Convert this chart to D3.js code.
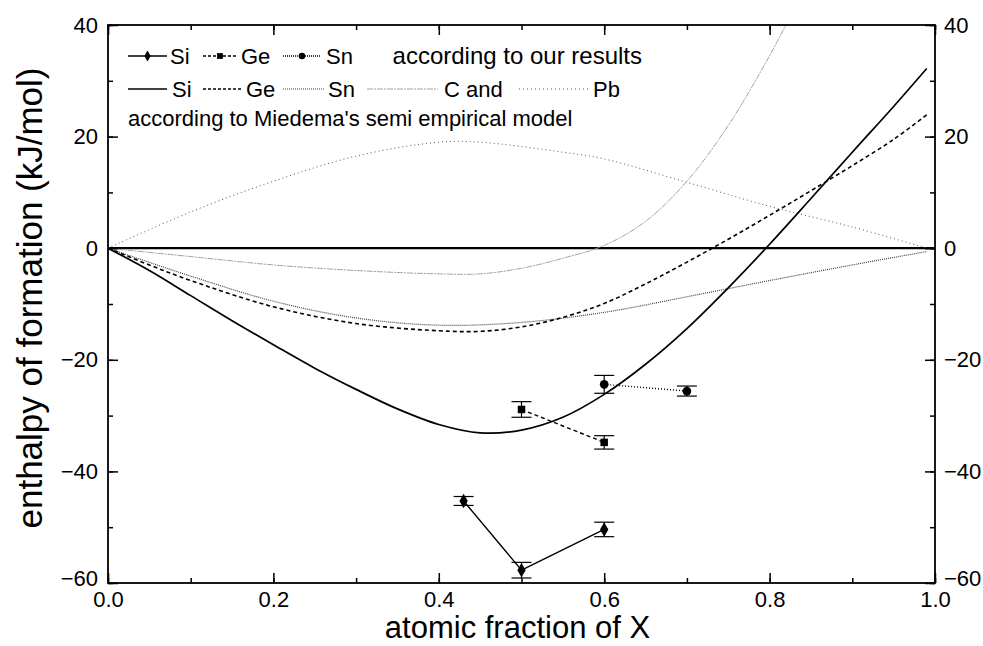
<!DOCTYPE html>
<html>
<head>
<meta charset="utf-8">
<script src="https://cdn.jsdelivr.net/npm/d3@7"></script>
<style>
  body { margin: 0; background: #fff; }
  svg, svg text { font-family: "Liberation Sans", Arial, sans-serif; }
  .tick text { font-size: 22px; font-family: "Liberation Sans", Arial, sans-serif; fill: #000; }
</style>
</head>
<body>
<div id="chartHolder"></div>
<script>
// Miedema model curves: [x, enthalpy]
const siModel = [[0,0],[0.05,-4],[0.1,-8.5],[0.15,-13],[0.2,-17.3],[0.25,-21.5],[0.3,-25.3],[0.35,-28.8],[0.4,-31.6],[0.45,-33.1],[0.5,-32.6],[0.55,-30.3],[0.6,-26.2],[0.65,-20.8],[0.7,-14.4],[0.75,-7.1],[0.8,0.7],[0.85,8.9],[0.9,17.2],[0.95,25.4],[0.99,32.2]];
const geModel = [[0,0],[0.05,-3],[0.1,-5.8],[0.2,-10.5],[0.3,-13.5],[0.4,-14.8],[0.45,-14.9],[0.5,-14.1],[0.55,-12.4],[0.6,-9.9],[0.65,-6.4],[0.7,-2.5],[0.75,1.6],[0.8,5.9],[0.85,10.3],[0.9,14.8],[0.95,19.5],[0.99,23.9]];
const snModel = [[0,0],[0.1,-5],[0.2,-9.5],[0.3,-12.5],[0.4,-13.8],[0.5,-13.3],[0.6,-11.5],[0.7,-8.7],[0.8,-5.8],[0.9,-3],[0.99,-0.6]];
const cModel = [[0,0],[0.1,-1.5],[0.2,-3],[0.3,-4],[0.4,-4.6],[0.45,-4.6],[0.5,-3.6],[0.55,-1.8],[0.6,0.5],[0.65,4.8],[0.7,12],[0.75,22],[0.8,34.5],[0.83,43]];
const pbModel = [[0,0],[0.1,6.5],[0.2,12],[0.3,16.5],[0.4,19],[0.45,19],[0.55,17.2],[0.6,16],[0.7,11.8],[0.8,7.5],[0.9,3.8],[0.99,0]];

// our results: [x, enthalpy, error]
const siResults = [[0.43,-45.3,0.8],[0.5,-57.7,1.4],[0.6,-50.4,1.3]];
const geResults = [[0.5,-28.9,1.4],[0.6,-34.8,1.2]];
const snResults = [[0.6,-24.4,1.6],[0.7,-25.6,0.9]];

const xTicks = [0, 0.2, 0.4, 0.6, 0.8, 1.0];
const yTicks = [-60, -40, -20, 0, 20, 40];

const w = 983, h = 646;
const pLeft = 108, pRight = 935, pTop = 25, pBottom = 583;

const svg = d3.select("#chartHolder").append("svg")
  .attr("width", w).attr("height", h);

const x = d3.scaleLinear().domain([0, 1]).range([pLeft, pRight]);
const y = d3.scaleLinear().domain([-60, 40]).range([pBottom, pTop]);

svg.append("clipPath").attr("id", "plotClip")
  .append("rect").attr("x", pLeft).attr("y", pTop)
  .attr("width", pRight - pLeft).attr("height", pBottom - pTop);

const plot = svg.append("g").attr("clip-path", "url(#plotClip)");

const line = d3.line().x(d => x(d[0])).y(d => y(d[1])).curve(d3.curveCatmullRom);

// zero line
plot.append("line")
  .attr("x1", pLeft).attr("x2", pRight).attr("y1", y(0)).attr("y2", y(0))
  .attr("stroke", "#000").attr("stroke-width", 2.2);

const models = [
  { data: pbModel, color: "#555", width: 1, dash: "1,3" },
  { data: cModel, color: "#999", width: 0.9, dash: "6,1,2,1" },
  { data: snModel, color: "#444", width: 1.2, dash: "1,1" },
  { data: geModel, color: "#000", width: 1.6, dash: "4,3" },
  { data: siModel, color: "#000", width: 1.7, dash: null }
];
models.forEach(m => {
  plot.append("path").datum(m.data)
    .attr("d", line)
    .attr("fill", "none")
    .attr("stroke", m.color)
    .attr("stroke-width", m.width)
    .attr("stroke-dasharray", m.dash);
});

// results series
const results = [
  { data: siResults, dash: null, shape: d3.symbolDiamond, size: 60 },
  { data: geResults, dash: "4,3", shape: d3.symbolSquare, size: 56 },
  { data: snResults, dash: "1,2", shape: d3.symbolCircle, size: 60 }
];
results.forEach(r => {
  plot.append("path").datum(r.data)
    .attr("d", d3.line().x(d => x(d[0])).y(d => y(d[1])))
    .attr("fill", "none").attr("stroke", "#000").attr("stroke-width", 1.4)
    .attr("stroke-dasharray", r.dash);
  const g = plot.selectAll(null).data(r.data).enter().append("g");
  g.append("line")
    .attr("x1", d => x(d[0])).attr("x2", d => x(d[0]))
    .attr("y1", d => y(d[1] - d[2])).attr("y2", d => y(d[1] + d[2]))
    .attr("stroke", "#000").attr("stroke-width", 1.2);
  [-1, 1].forEach(s => {
    g.append("line")
      .attr("x1", d => x(d[0]) - 10).attr("x2", d => x(d[0]) + 10)
      .attr("y1", d => y(d[1] + s * d[2])).attr("y2", d => y(d[1] + s * d[2]))
      .attr("stroke", "#000").attr("stroke-width", 1.2);
  });
  g.append("path")
    .attr("d", d3.symbol().type(r.shape).size(r.size))
    .attr("transform", d => "translate(" + x(d[0]) + "," + y(d[1]) + ")")
    .attr("fill", "#000");
});

// axes with inward ticks
function styleAxis(g) {
  g.select(".domain").remove();
  g.attr("font-family", null).attr("font-size", null);
  g.selectAll("line").attr("stroke", "#000").attr("stroke-width", 1.5);
}
const xMinor = d3.range(0, 1.001, 0.1);
const yMinor = d3.range(-60, 40.1, 10);

svg.append("g").attr("transform", "translate(0," + pBottom + ")")
  .call(d3.axisBottom(x).tickValues(xMinor).tickSize(-5).tickFormat(""))
  .call(styleAxis);
svg.append("g").attr("transform", "translate(0," + pBottom + ")")
  .call(d3.axisBottom(x).tickValues(xTicks).tickSize(-10).tickPadding(8).tickFormat(d3.format(".1f")))
  .call(styleAxis);
svg.append("g").attr("transform", "translate(0," + pTop + ")")
  .call(d3.axisTop(x).tickValues(xMinor).tickSize(-5).tickFormat(""))
  .call(styleAxis);
svg.append("g").attr("transform", "translate(0," + pTop + ")")
  .call(d3.axisTop(x).tickValues(xTicks).tickSize(-10).tickFormat(""))
  .call(styleAxis);

svg.append("g").attr("transform", "translate(" + pLeft + ",0)")
  .call(d3.axisLeft(y).tickValues(yMinor).tickSize(-5).tickFormat(""))
  .call(styleAxis);
svg.append("g").attr("transform", "translate(" + pLeft + ",0)")
  .call(d3.axisLeft(y).tickValues(yTicks).tickSize(-10).tickPadding(10))
  .call(styleAxis)
  .selectAll(".tick text").attr("dy", d => d === -60 ? "0.1em" : "0.32em");
svg.append("g").attr("transform", "translate(" + pRight + ",0)")
  .call(d3.axisRight(y).tickValues(yMinor).tickSize(-5).tickFormat(""))
  .call(styleAxis);
svg.append("g").attr("transform", "translate(" + pRight + ",0)")
  .call(d3.axisRight(y).tickValues(yTicks).tickSize(-10).tickPadding(9))
  .call(styleAxis)
  .selectAll(".tick text").attr("dy", d => d === -60 ? "0.1em" : "0.32em");

// frame
svg.append("rect")
  .attr("x", pLeft).attr("y", pTop).attr("width", pRight - pLeft).attr("height", pBottom - pTop)
  .attr("fill", "none").attr("stroke", "#000").attr("stroke-width", 1.8);

// axis titles
svg.append("text")
  .attr("text-anchor", "middle")
  .attr("transform", "translate(42,298)rotate(-90)")
  .style("font-size", "35px")
  .text("enthalpy of formation (kJ/mol)");
svg.append("text")
  .attr("text-anchor", "middle")
  .attr("x", (pLeft + pRight) / 2 - 4).attr("y", 638)
  .style("font-size", "31px")
  .text("atomic fraction of X");

// legend
const lg = svg.append("g").style("font-size", "22px");
const row1 = 56, row2 = 89, row3 = 126;
const leg1 = [
  { x1: 128, x2: 167, dash: null, shape: d3.symbolDiamond, label: "Si", tx: 170 },
  { x1: 203, x2: 237, dash: "3,2", shape: d3.symbolSquare, label: "Ge", tx: 241 },
  { x1: 283, x2: 321, dash: "1,1", shape: d3.symbolCircle, label: "Sn", tx: 326 }
];
leg1.forEach(l => {
  lg.append("line").attr("x1", l.x1).attr("x2", l.x2).attr("y1", row1).attr("y2", row1)
    .attr("stroke", "#000").attr("stroke-width", 1.3).attr("stroke-dasharray", l.dash);
  lg.append("path").attr("d", d3.symbol().type(l.shape).size(34))
    .attr("transform", "translate(" + ((l.x1 + l.x2) / 2) + "," + row1 + ")");
  lg.append("text").attr("x", l.tx).attr("y", row1 + 8).text(l.label);
});
lg.append("text").attr("x", 642).attr("y", row1 + 8).attr("text-anchor", "end")
  .style("font-size", "24px").text("according to our results");

const leg2 = [
  { x1: 128, x2: 167, dash: null, color: "#000", sw: 1.5, label: "Si", tx: 172 },
  { x1: 203, x2: 243, dash: "3,2", color: "#000", sw: 1.3, label: "Ge", tx: 246 },
  { x1: 283, x2: 324, dash: "1,1", color: "#444", sw: 1, label: "Sn", tx: 328 },
  { x1: 367, x2: 438, dash: "6,1,2,1", color: "#999", sw: 0.9, label: "C and", tx: 444 },
  { x1: 519, x2: 588, dash: "1,3", color: "#555", sw: 1, label: "Pb", tx: 593 }
];
leg2.forEach(l => {
  lg.append("line").attr("x1", l.x1).attr("x2", l.x2).attr("y1", row2).attr("y2", row2)
    .attr("stroke", l.color).attr("stroke-width", l.sw).attr("stroke-dasharray", l.dash);
  lg.append("text").attr("x", l.tx).attr("y", row2 + 8).text(l.label);
});
lg.append("text").attr("x", 128).attr("y", row3).text("according to Miedema's semi empirical model");
</script>
</body>
</html>
